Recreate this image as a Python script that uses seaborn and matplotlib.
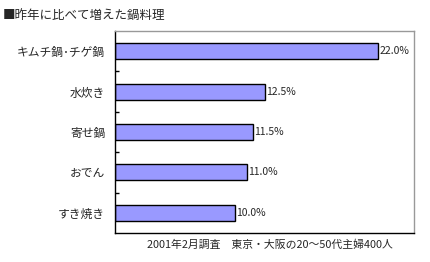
import numpy as np
import pandas as pd
import matplotlib.pyplot as plt
import seaborn as sns

# データ
dishes = ['キムチ鍋･チゲ鍋', '水炊き', '寄せ鍋', 'おでん', 'すき焼き']
rates = [22.0, 12.5, 11.5, 11.0, 10.0]
title = '■昨年に比べて増えた鍋料理'
note = '2001年2月調査　東京・大阪の20～50代主婦400人'

sns.set_style('white')
plt.rcParams['font.family'] = ['Noto Sans CJK JP', 'DejaVu Sans']

df = pd.DataFrame({'dish': dishes, 'rate': rates})

fig = plt.figure(figsize=(4.31, 2.62), dpi=100)
ax = fig.add_axes([115 / 431, 1 - 233 / 262, 299 / 431, 202 / 262])

sns.barplot(data=df, x='rate', y='dish', orient='h', color='#9999FF',
            saturation=1, width=0.4, edgecolor='black', linewidth=1, ax=ax)

ax.set_xlim(0, 25)
ax.set_ylim(len(dishes) - 0.5, -0.5)
ax.set_xlabel('')
ax.set_ylabel('')
ax.set_xticks([])
ax.tick_params(axis='y', length=0, labelsize=8.5, pad=7)
ax.set_yticks(np.arange(len(dishes) - 1) + 0.5, minor=True)
ax.tick_params(axis='y', which='minor', direction='in', length=3, width=1,
               color='black', left=True)

for s in ['top', 'right']:
    ax.spines[s].set_color('#999999')
    ax.spines[s].set_linewidth(1)
for s in ['left', 'bottom']:
    ax.spines[s].set_color('black')
    ax.spines[s].set_linewidth(1)

for i, v in enumerate(rates):
    ax.text(v + 0.15, i, f'{v:.1f}%', va='center', ha='left', fontsize=7.5)

fig.text(3 / 431, 1 - 16 / 262, title, fontsize=9, va='center', ha='left')
fig.text(270 / 431, 1 - 245 / 262, note, fontsize=7.8, va='center', ha='center')

fig.savefig('out.png', dpi=100)
